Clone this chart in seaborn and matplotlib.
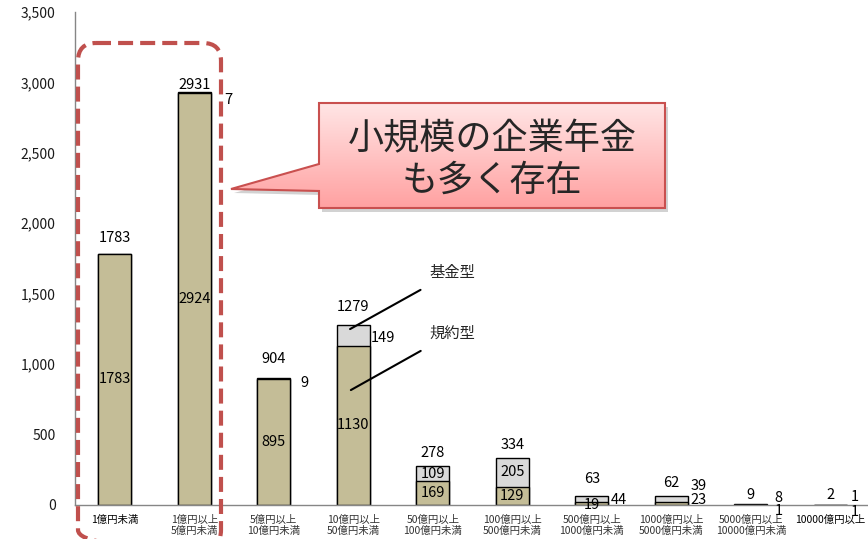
import numpy as np
import pandas as pd
import matplotlib
matplotlib.use("Agg")
import matplotlib.pyplot as plt
import seaborn as sns
from matplotlib.patches import Polygon, FancyBboxPatch
from matplotlib.ticker import FuncFormatter, FixedLocator

# ---------------- data ----------------
categories = ["1億円未満", "1億円以上\n5億円未満", "5億円以上\n10億円未満",
              "10億円以上\n50億円未満", "50億円以上\n100億円未満",
              "100億円以上\n500億円未満", "500億円以上\n1000億円未満",
              "1000億円以上\n5000億円未満", "5000億円以上\n10000億円未満",
              "10000億円以上"]
kiyaku = [1783, 2924, 895, 1130, 169, 129, 19, 23, 1, 1]      # 規約型
kikin = [0, 7, 9, 149, 109, 205, 44, 39, 8, 1]               # 基金型
totals = [1783, 2931, 904, 1279, 278, 334, 63, 62, 9, 2]
yticks = [0, 500, 1000, 1500, 2000, 2500, 3000, 3500]

sns.set_style("white")
plt.rcParams["font.family"] = ["Noto Sans CJK JP", "DejaVu Sans"]

W, H = 868, 539
fig = plt.figure(figsize=(W / 100, H / 100), dpi=100)
ax = fig.add_axes([75 / W, 34 / H, 795 / W, 493 / H])

df = pd.DataFrame({"category": categories, "kiyaku": kiyaku,
                   "kikin": kikin, "total": totals})

sns.barplot(data=df, x="category", y="total", color="#D9D9D9", saturation=1,
            width=0.42, edgecolor="black", linewidth=1.0, ax=ax)
sns.barplot(data=df, x="category", y="kiyaku", color="#C4BD97", saturation=1,
            width=0.42, edgecolor="black", linewidth=1.0, ax=ax)

ax.set_xlim(-0.5, len(categories) - 0.5)
ax.set_ylim(0, 3500)
ax.set_xlabel("")
ax.set_ylabel("")
ax.set_yticks(yticks)
ax.yaxis.set_major_formatter(FuncFormatter(lambda v, p: f"{int(v):,}"))
for s in ["top", "right"]:
    ax.spines[s].set_visible(False)
for s in ["left", "bottom"]:
    ax.spines[s].set_color("#868686")
    ax.spines[s].set_linewidth(1.0)
ax.tick_params(axis="y", length=4, color="#868686", labelsize=10,
               pad=10, labelcolor="#1a1a1a")
ax.tick_params(axis="x", which="major", length=0, labelsize=7.5, pad=7,
               labelcolor="#333333")
for tl in ax.get_xticklabels():
    if "\n" not in tl.get_text():
        tl.set_color("black")
ax.xaxis.set_minor_locator(FixedLocator(np.arange(-0.5, len(categories), 1.0)))
ax.tick_params(axis="x", which="minor", length=3, color="#868686",
               direction="out")

# ------------- value labels (layout per category, pixel offsets) -------------
PX = 0.72  # pixels -> points at 100 dpi


def lab(x, y, txt, dy_px=0.0):
    ax.annotate(txt, xy=(x, y), xytext=(0, dy_px * PX),
                textcoords="offset points", ha="center", va="center",
                fontsize=10.5, color="black", annotation_clip=False)


total_dy = [16, 7, 19, 18, 13, 13, 17, 13, 9, 10]
for i in range(len(categories)):
    lab(i, totals[i], str(totals[i]), total_dy[i])

# 規約型 labels
for i in range(6):
    lab(i, kiyaku[i] / 2, str(kiyaku[i]))
lab(6, 0, str(kiyaku[6]))
lab(7 + 0.34, totals[7], str(kiyaku[7]), -4)
lab(8 + 0.35, totals[8], str(kiyaku[8]), -7)
lab(9 + 0.31, totals[9], str(kiyaku[9]), -7)

# 基金型 labels
lab(1 + 0.43, totals[1], str(kikin[1]), -8)
lab(2 + 0.38, totals[2], str(kikin[2]), -5)
lab(3 + 0.37, kiyaku[3] + kikin[3] / 2, str(kikin[3]), -3)
lab(4, kiyaku[4] + kikin[4] / 2, str(kikin[4]))
lab(5, kiyaku[5] + kikin[5] / 2, str(kikin[5]))
lab(6 + 0.34, totals[6], str(kikin[6]), -4)
lab(7 + 0.34, totals[7], str(kikin[7]), 10)
lab(8 + 0.35, totals[8], str(kikin[8]), 6)
lab(9 + 0.31, totals[9], str(kikin[9]), 8)

# leader lines for series names
ax.annotate("基金型", xy=(2.96, 1249), xytext=(4.25, 1654),
            ha="center", va="center", fontsize=11,
            arrowprops=dict(arrowstyle="-", color="black", lw=1.5,
                            shrinkA=9, shrinkB=0))
ax.annotate("規約型", xy=(2.97, 816), xytext=(4.25, 1221),
            ha="center", va="center", fontsize=11,
            arrowprops=dict(arrowstyle="-", color="black", lw=1.5,
                            shrinkA=9, shrinkB=0))

# ------------- overlay: dashed frame and callout -------------
ov = fig.add_axes([0, 0, 1, 1], zorder=5)
ov.patch.set_alpha(0)

frame = FancyBboxPatch((78, 43), 143, 505,
                       boxstyle="round,pad=0,rounding_size=18",
                       fill=False, ec="#C0504D", lw=3,
                       ls=(0, (3.6, 1.7)))
ov.add_patch(frame)

verts = [(319, 103), (665, 103), (665, 208), (319, 208), (319, 191),
         (231, 189), (319, 164)]
shadow = Polygon([(x + 3, y + 4) for x, y in verts], closed=True,
                 fc="#7f7f7f", ec="none", alpha=0.35)
ov.add_patch(shadow)
top_c = np.array([1.0, 0.90, 0.90])
bot_c = np.array([1.0, 0.63, 0.63])
t = np.linspace(0, 1, 256)[:, None, None]
grad = (top_c * (1 - t) + bot_c * t) * np.ones((1, 2, 3))
im = ov.imshow(grad, extent=(231, 665, 208, 103), origin="upper",
               aspect="auto", zorder=2)
callout = Polygon(verts, closed=True, fc="none", ec="#C9504F", lw=1.5,
                  zorder=3)
ov.add_patch(callout)
im.set_clip_path(callout)
ov.text(492, 139, "小規模の企業年金", fontsize=26, ha="center",
        va="center", zorder=4)
ov.text(492, 181, "も多く存在", fontsize=26, ha="center", va="center",
        zorder=4)

ov.set_xlim(0, W)
ov.set_ylim(H, 0)
ov.axis("off")

fig.savefig("out.png", dpi=100)
